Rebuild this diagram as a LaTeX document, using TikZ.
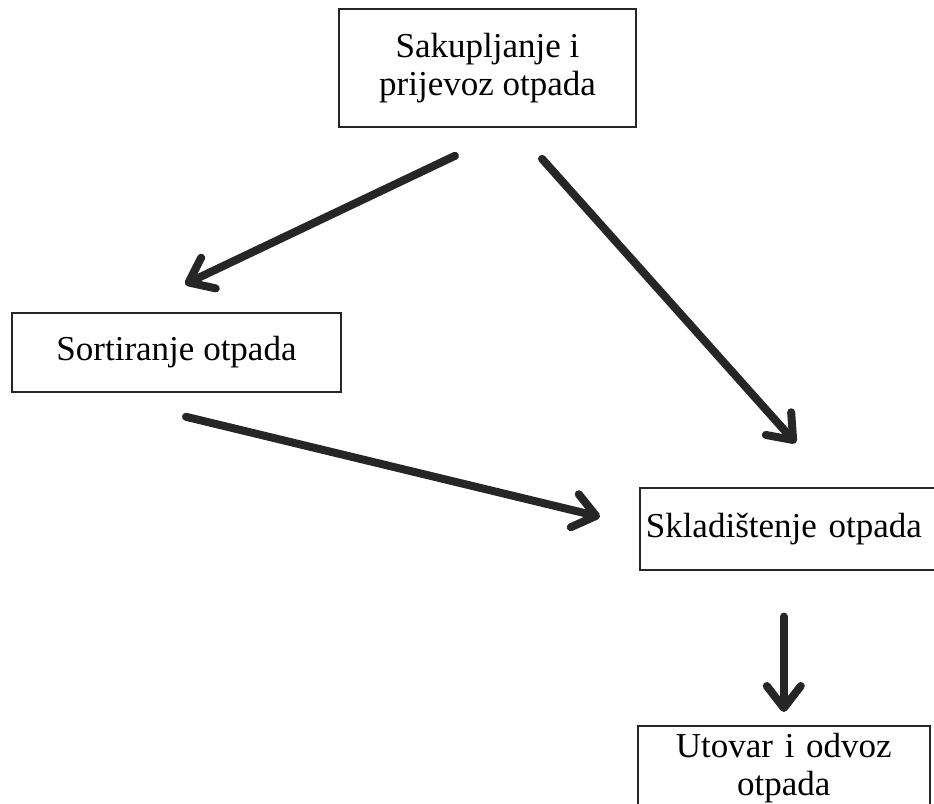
\documentclass[tikz,border=0pt]{standalone}
\usepackage{fontspec}
\setmainfont{Liberation Serif}
\usetikzlibrary{arrows.meta}
\tikzset{
  box/.style={draw=black!85, line width=1.6pt, inner sep=0pt, align=center, font=\fontsize{35}{38}\selectfont},
  arr/.style={draw=black!85, line width=8pt, line cap=round, -{Straight Barb[length=22pt,width=34pt,round]}},
}
\begin{document}
\begin{tikzpicture}[x=1pt,y=1pt,yscale=-1]
\clip (0,0) rectangle (934,803);

%Shape: Rectangle [sakup]
\node[box, minimum width=297pt, minimum height=118pt] (sakup) at (487.5,68) {Sakupljanje i\\prijevoz otpada};
%Shape: Rectangle [sort]
\node[box, minimum width=329pt, minimum height=79pt] (sort) at (176.5,352.5) {Sortiranje otpada};
%Shape: Rectangle [sklad] (runs off the right side)
\node[box, anchor=north west, text width=289pt, inner xsep=6pt, minimum height=82pt, align=left] (sklad) at (639,487) {Skladištenje otpada};
%Shape: Rectangle [utovar] (runs off the bottom)
\node[box, anchor=north west, text width=292pt, inner ysep=7pt] (utovar) at (637,725) {Utovar i odvoz\\otpada};

%Arrows
\draw[arr] ([shift={(-32.5,28)}]sakup.south) -- ([shift={(8.5,-28)}]sort.north);
\draw[arr] ([shift={(54.5,31)}]sakup.south) -- ([shift={(5.5,-44)}]sklad.north);
\draw[arr] ([shift={(9.5,24)}]sort.south) -- ([shift={(-39,-12)}]sklad.west);
\draw[arr] ([shift={(-6.5,46)}]sklad.south) -- ([shift={(0,-13)}]utovar.north);

\end{tikzpicture}
\end{document}
